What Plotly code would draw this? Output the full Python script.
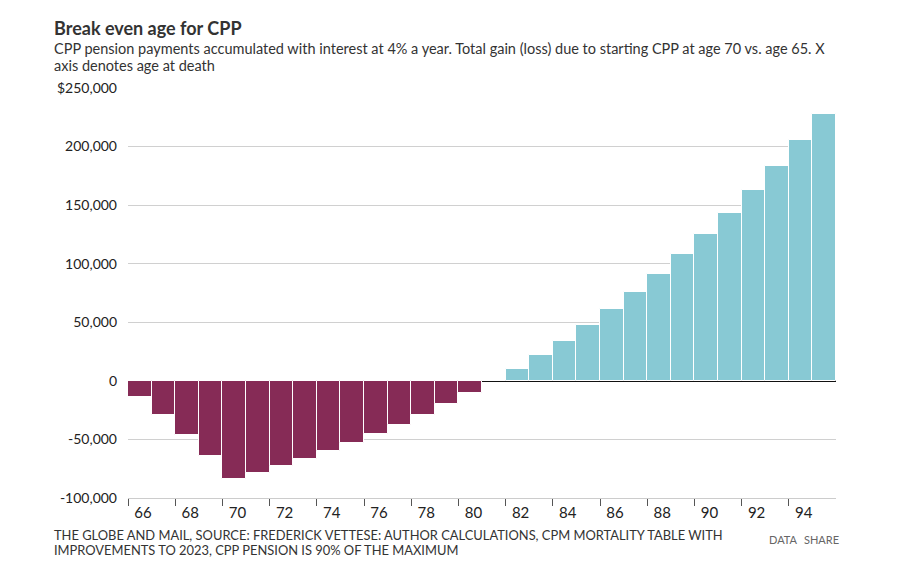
import plotly.graph_objects as go

# ---- data ----
ages = list(range(66, 96))
gain = [-13400, -29000, -46300, -64500, -83600, -78500, -72800, -66800, -60000,
        -52900, -45500, -37500, -29000, -19900, -10500, 0,
        10200, 21800, 34400, 47400, 61100, 76200, 91500, 108000, 125100,
        143600, 163200, 183400, 205300, 227800]
y_tickvals = [-100000, -50000, 0, 50000, 100000, 150000, 200000, 250000]
y_ticktext = ["-100,000", "-50,000", "0", "50,000", "100,000", "150,000", "200,000", "$250,000"]
x_label_ages = list(range(66, 95, 2))

NEG = "#862B56"
POS = "#88C9D4"
colors = [NEG if v < 0 else POS for v in gain]

OFF = 8  # page body margin
W, H = 917 - OFF, 577 - OFF
L, R, T, B = 128 - OFF, 836 - OFF, 88 - OFF, 498 - OFF
def px(x):
    return (x - OFF - L) / (R - L)
def py(y):
    return (B - (y - OFF)) / (B - T)

FONT = "Lato"

fig = go.Figure(go.Bar(
    x=ages, y=gain, marker=dict(color=colors, line=dict(color="white", width=1)),
    hoverinfo="x+y"))

fig.update_layout(
    width=W, height=H, margin=dict(l=L, r=W - R, t=T, b=H - B, pad=0),
    paper_bgcolor="white", plot_bgcolor="white", bargap=0, showlegend=False,
    font=dict(family=FONT, color="#222", size=14),
)
fig.update_xaxes(
    range=[65.5, 95.5], tickmode="array",
    tickvals=[a - 0.5 for a in x_label_ages], ticktext=[str(a) for a in x_label_ages],
    ticks="outside", ticklen=7, tickwidth=1, tickcolor="#555",
    ticklabelshift=15, ticklabelstandoff=-6, tickfont=dict(size=15, color="#222"),
    showgrid=False, showline=True, linecolor="#cccccc", linewidth=1, zeroline=False,
)
fig.update_yaxes(
    range=[-100000, 250000], tickmode="array", tickvals=y_tickvals, ticktext=y_ticktext,
    showgrid=True, gridcolor="#d0d0d0", gridwidth=1,
    zeroline=True, zerolinecolor="#111", zerolinewidth=1.5,
    ticks="", ticklabelstandoff=10, tickfont=dict(size=14, color="#222"),
    showline=False,
)

anns = [
    dict(text="<b>Break even age for CPP</b>", x=px(52), y=py(28), size=18, color="#333"),
    dict(text="CPP pension payments accumulated with interest at 4% a year. Total gain (loss) due to starting CPP at age 70 vs. age 65. X",
         x=px(52), y=py(49), size=14.5, color="#333"),
    dict(text="axis denotes age at death", x=px(52), y=py(66), size=14.5, color="#333"),
    dict(text="THE GLOBE AND MAIL, SOURCE: FREDERICK VETTESE: AUTHOR CALCULATIONS, CPM MORTALITY TABLE WITH",
         x=px(52), y=py(535), size=12.9, color="#333"),
    dict(text="IMPROVEMENTS TO 2023, CPP PENSION IS 90% OF THE MAXIMUM",
         x=px(52), y=py(550), size=12.9, color="#333"),
    dict(text="DATA", x=px(767), y=py(539), size=11, color="#666"),
    dict(text="SHARE", x=px(802), y=py(539), size=11, color="#666"),
]
for a in anns:
    fig.add_annotation(
        text=a["text"], x=a["x"], y=a["y"], xref="paper", yref="paper",
        xanchor="left", yanchor="middle", showarrow=False,
        font=dict(family=FONT, size=a["size"], color=a["color"]),
    )

fig.write_html("out.html")
